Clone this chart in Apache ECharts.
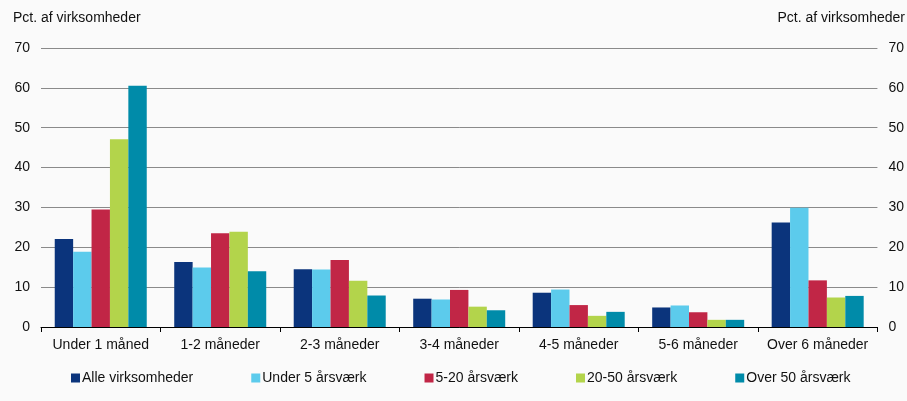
<!DOCTYPE html>
<html>
<head>
<meta charset="utf-8">
<script src="https://cdn.jsdelivr.net/npm/echarts@6/dist/echarts.min.js"></script>
<style>
html,body{margin:0;padding:0;background:#fafafa;}
#c{width:907px;height:401px;}
</style>
</head>
<body>
<div id="c"></div>
<script>
const categories = ['Under 1 måned','1-2 måneder','2-3 måneder','3-4 måneder','4-5 måneder','5-6 måneder','Over 6 måneder'];
const alleVirksomheder = [22.1, 16.3, 14.5, 7.1, 8.6, 4.9, 26.2];
const under5 = [18.9, 14.9, 14.4, 6.9, 9.4, 5.4, 29.9];
const fra5til20 = [29.5, 23.5, 16.8, 9.3, 5.5, 3.7, 11.7];
const fra20til50 = [47.1, 23.9, 11.6, 5.1, 2.8, 1.8, 7.4];
const over50 = [60.5, 14.0, 7.9, 4.2, 3.8, 1.8, 7.8];
const seriesNames = ['Alle virksomheder','Under 5 årsværk','5-20 årsværk','20-50 årsværk','Over 50 årsværk'];
const yTicks = [0,10,20,30,40,50,60,70];
const axisTitle = 'Pct. af virksomheder';

const colors = ['#0b347c','#5ccbec','#c12646','#b3d44b','#008ba9'];
const font = 'Liberation Sans, Arial, sans-serif';
const chart = echarts.init(document.getElementById('c'));
const dataSets = [alleVirksomheder, under5, fra5til20, fra20til50, over50];
const yAxisBase = {
  type:'value', min:yTicks[0], max:yTicks[yTicks.length-1], interval:10,
  axisLine:{show:false}, axisTick:{show:false},
  axisLabel:{color:'#111', fontSize:14, fontFamily:font, margin:11},
};
chart.setOption({
  backgroundColor:'#fafafa',
  animation:false,
  color:colors,
  grid:{left:41, right:29, top:48, bottom:74},
  graphic:[
    {type:'text', left:13, top:11, style:{text:axisTitle, fontSize:14, fontFamily:font, fill:'#111'}},
    {type:'text', right:2, top:11, style:{text:axisTitle, fontSize:14, fontFamily:font, fill:'#111'}}
  ],
  legend:{
    top:366, left:66, itemWidth:9, itemHeight:9, itemGap:58, icon:'rect',
    textStyle:{fontSize:14, fontFamily:font, color:'#111', padding:[0,0,0,-3]},
    data:seriesNames
  },
  xAxis:{
    type:'category', data:categories,
    axisLine:{lineStyle:{color:'#000', width:1}},
    axisTick:{show:true, length:5, lineStyle:{color:'#000'}},
    axisLabel:{color:'#111', fontSize:14, fontFamily:font, margin:11, interval:0}
  },
  yAxis:[
    Object.assign({}, yAxisBase, {position:'left', splitLine:{lineStyle:{color:'#8a8a8a', width:1}}}),
    Object.assign({}, yAxisBase, {position:'right', splitLine:{show:false}})
  ],
  series: dataSets.map((d,i)=>({
    name:seriesNames[i], type:'bar', data:d, barGap:'0%', barCategoryGap:'23%'
  }))
});
</script>
</body>
</html>
